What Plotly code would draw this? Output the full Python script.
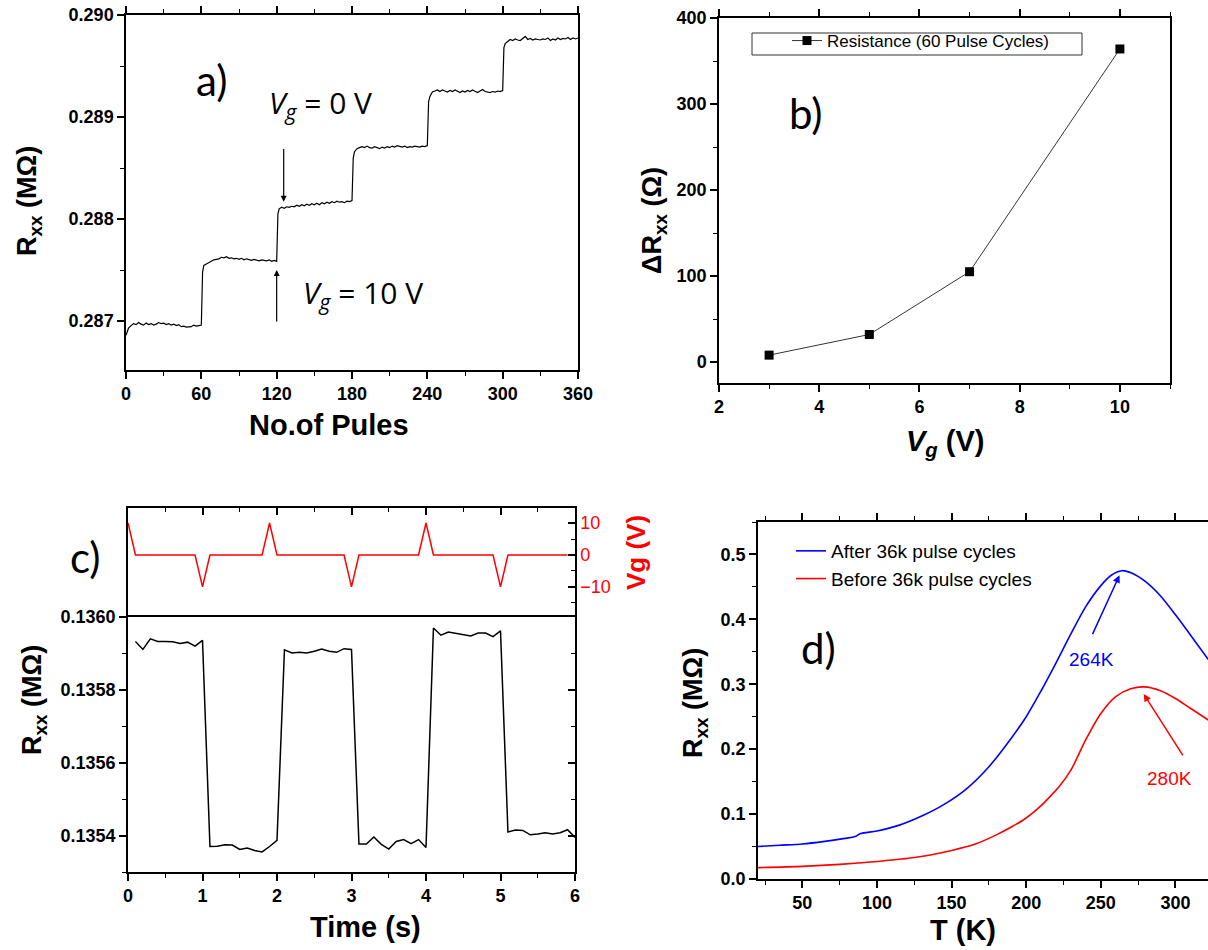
import plotly.graph_objects as go

# ---------------- data ----------------
# (a) Rxx (MOhm) vs number of pulses, six 60-pulse plateaus
pulses = (list(range(0, 61, 2))
          + [61] + list(range(62, 121, 2))
          + [121] + list(range(122, 181, 2))
          + [181] + list(range(182, 241, 2))
          + [241] + list(range(242, 301, 2))
          + [301] + list(range(302, 361, 2)))
rxx_seg1 = [0.286860, 0.286930, 0.286955, 0.286975, 0.286965, 0.286985, 0.286970, 0.286960,
            0.286980, 0.286965, 0.286975, 0.286960, 0.286970, 0.286985, 0.286975, 0.286980,
            0.286965, 0.286975, 0.286960, 0.286970, 0.286955, 0.286965, 0.286945, 0.286950,
            0.286940, 0.286945, 0.286945, 0.286960, 0.286950, 0.286955, 0.286960]
rxx_seg2 = [0.287480, 0.287545, 0.287560, 0.287575, 0.287590, 0.287600, 0.287605, 0.287610,
            0.287625, 0.287620, 0.287630, 0.287615, 0.287620, 0.287610, 0.287615, 0.287605,
            0.287615, 0.287600, 0.287610, 0.287605, 0.287595, 0.287605, 0.287600, 0.287590,
            0.287600, 0.287595, 0.287590, 0.287600, 0.287585, 0.287595, 0.287585]
rxx_seg3 = [0.288050, 0.288100, 0.288115, 0.288105, 0.288120, 0.288115, 0.288125, 0.288120,
            0.288135, 0.288125, 0.288140, 0.288130, 0.288145, 0.288135, 0.288150, 0.288140,
            0.288155, 0.288140, 0.288160, 0.288150, 0.288165, 0.288155, 0.288170, 0.288160,
            0.288175, 0.288165, 0.288170, 0.288160, 0.288175, 0.288170, 0.288180]
rxx_seg4 = [0.288600, 0.288660, 0.288690, 0.288700, 0.288710, 0.288700, 0.288715, 0.288700,
            0.288695, 0.288710, 0.288700, 0.288690, 0.288705, 0.288695, 0.288710, 0.288700,
            0.288715, 0.288705, 0.288720, 0.288710, 0.288705, 0.288715, 0.288700, 0.288710,
            0.288705, 0.288715, 0.288710, 0.288705, 0.288715, 0.288710, 0.288720]
rxx_seg5 = [0.289150, 0.289200, 0.289245, 0.289255, 0.289265, 0.289250, 0.289265, 0.289255,
            0.289245, 0.289260, 0.289250, 0.289265, 0.289250, 0.289240, 0.289255, 0.289245,
            0.289260, 0.289250, 0.289265, 0.289250, 0.289240, 0.289255, 0.289270, 0.289250,
            0.289245, 0.289240, 0.289250, 0.289245, 0.289255, 0.289250, 0.289260]
rxx_seg6 = [0.289680, 0.289720, 0.289745, 0.289760, 0.289750, 0.289765, 0.289755, 0.289750,
            0.289770, 0.289790, 0.289760, 0.289770, 0.289755, 0.289765, 0.289760, 0.289755,
            0.289765, 0.289760, 0.289775, 0.289750, 0.289765, 0.289755, 0.289775, 0.289760,
            0.289770, 0.289765, 0.289780, 0.289760, 0.289775, 0.289765, 0.289775]
rxx_pulses = rxx_seg1 + rxx_seg2 + rxx_seg3 + rxx_seg4 + rxx_seg5 + rxx_seg6

# (b) Delta Rxx vs gate voltage
vg_b = [3, 5, 7, 10]
drxx_b = [8, 32, 105, 364]

# (c) gate pulses and Rxx vs time
t_vg = [0, 0.1, 0.9, 1.0, 1.1, 1.8, 1.9, 2.0, 2.9, 3.0, 3.1, 3.9, 4.0, 4.1, 4.9, 5.0, 5.1, 5.9]
vg_c = [10, 0, 0, -10, 0, 0, 10, 0, 0, -10, 0, 0, 10, 0, 0, -10, 0, 0]
t_r = [round(0.1 * i, 1) for i in range(1, 61)]
rxx_t = [0.135933, 0.135911, 0.135940, 0.135933, 0.135933, 0.135932, 0.135927, 0.135931, 0.135920, 0.135936,
         0.135370, 0.135371, 0.135375, 0.135374, 0.135362, 0.135366, 0.135359, 0.135355, 0.135370, 0.135387,
         0.135910, 0.135901, 0.135903, 0.135901, 0.135906, 0.135912, 0.135906, 0.135903, 0.135913, 0.135911,
         0.135377, 0.135377, 0.135396, 0.135376, 0.135363, 0.135384, 0.135389, 0.135378, 0.135389, 0.135367,
         0.135970, 0.135950, 0.135959, 0.135956, 0.135953, 0.135948, 0.135956, 0.135956, 0.135946, 0.135962,
         0.135410, 0.135415, 0.135414, 0.135402, 0.135404, 0.135408, 0.135404, 0.135408, 0.135416, 0.135395]

# (d) Rxx vs temperature
T_after = [20, 35, 50, 65, 80, 86, 89, 100, 115, 130, 145, 160, 175, 190, 200, 210, 220, 230,
           240, 250, 257, 264, 271, 280, 290, 300, 310, 322]
R_after = [0.050, 0.052, 0.054, 0.058, 0.063, 0.066, 0.070, 0.074, 0.083, 0.097, 0.115, 0.139,
           0.173, 0.217, 0.250, 0.290, 0.333, 0.378, 0.420, 0.452, 0.468, 0.475, 0.471, 0.458,
           0.436, 0.407, 0.376, 0.338]
T_before = [20, 50, 75, 100, 125, 150, 165, 180, 190, 200, 210, 218, 222, 230, 240, 250, 260,
            270, 279, 290, 300, 310, 322]
R_before = [0.0175, 0.0195, 0.0225, 0.027, 0.033, 0.044, 0.053, 0.068, 0.080, 0.094, 0.113,
            0.132, 0.142, 0.168, 0.215, 0.255, 0.281, 0.293, 0.296, 0.290, 0.278, 0.263, 0.245]

# ---------------- layout helpers ----------------
W, H = 1208, 950


def dom_x(left, right):
    return [left / W, right / W]


def dom_y(top, bottom):
    return [1 - bottom / H, 1 - top / H]


ARIAL = "Liberation Sans"
TICKFONT = dict(family=ARIAL, size=18, color="black", weight="bold")


def ax(**kw):
    base = dict(showline=True, linecolor="black", linewidth=1.5, ticks="outside",
                ticklen=7, tickwidth=1.5, tickcolor="black", showgrid=False,
                zeroline=False, tickfont=TICKFONT, fixedrange=True)
    base.update(kw)
    return base


def minor(dtick, tick0=0, ticks="outside", ticklen=4):
    return dict(dtick=dtick, tick0=tick0, ticks=ticks, ticklen=ticklen, tickwidth=1.2,
                tickcolor="black", showgrid=False)


fig = go.Figure()

# (a)
fig.add_trace(go.Scatter(x=pulses, y=rxx_pulses, mode="lines", xaxis="x", yaxis="y",
                         line=dict(color="black", width=1.2), showlegend=False))
# (b)
fig.add_trace(go.Scatter(x=vg_b, y=drxx_b, mode="lines+markers", xaxis="x2", yaxis="y2",
                         name="Resistance (60 Pulse Cycles)", legend="legend",
                         line=dict(color="black", width=0.8),
                         marker=dict(symbol="square", size=9, color="black")))
# (c)
fig.add_trace(go.Scatter(x=t_vg, y=vg_c, mode="lines", xaxis="x3", yaxis="y3",
                         line=dict(color="red", width=1.5), showlegend=False))
fig.add_trace(go.Scatter(x=t_r, y=rxx_t, mode="lines", xaxis="x4", yaxis="y4",
                         line=dict(color="black", width=1.5), showlegend=False))
# empty trace that only carries the inward right-hand ticks of panel c
fig.add_trace(go.Scatter(x=[], y=[], mode="lines", xaxis="x4", yaxis="y6",
                         showlegend=False, hoverinfo="skip"))
# (d)
fig.add_trace(go.Scatter(x=T_after, y=R_after, mode="lines", xaxis="x5", yaxis="y5",
                         name="After 36k pulse cycles", legend="legend2",
                         line=dict(color="blue", width=1.6, shape="spline", smoothing=0.8)))
fig.add_trace(go.Scatter(x=T_before, y=R_before, mode="lines", xaxis="x5", yaxis="y5",
                         name="Before 36k pulse cycles", legend="legend2",
                         line=dict(color="red", width=1.6, shape="spline", smoothing=0.8)))

rxx_c_range = [0.1353, 0.1360]
rxx_c_ticks = [0.1354, 0.1356, 0.1358, 0.1360]

fig.update_layout(
    width=W, height=H, autosize=False,
    margin=dict(l=0, r=0, t=0, b=0, pad=0, autoexpand=False),
    paper_bgcolor="white", plot_bgcolor="white",
    font=dict(family=ARIAL, color="black"),
    # panel a
    xaxis=ax(domain=dom_x(126, 578), anchor="y", range=[0, 360],
             tickvals=[0, 60, 120, 180, 240, 300, 360], minor=minor(30), mirror="ticks"),
    yaxis=ax(domain=dom_y(15, 370), anchor="x", range=[0.28652, 0.2900],
             tickvals=[0.287, 0.288, 0.289, 0.290], tickformat=".3f",
             minor=minor(0.0005, 0.287), mirror=True),
    # panel b
    xaxis2=ax(domain=dom_x(719, 1170), anchor="y2", range=[2, 11],
              tickvals=[2, 4, 6, 8, 10], minor=minor(1, 2), mirror="ticks"),
    yaxis2=ax(domain=dom_y(18, 383), anchor="x2", range=[-24.4, 400],
              tickvals=[0, 100, 200, 300, 400], minor=minor(50), mirror=True),
    # panel c (top: Vg)
    xaxis3=ax(domain=dom_x(128, 575), anchor="y3", range=[0, 6], side="top",
              ticks="inside", dtick=1, showticklabels=False,
              minor=minor(0.5, 0, "inside"), mirror=False),
    yaxis3=ax(domain=dom_y(508, 617), anchor="x3", range=[-19.4, 14.7], side="right",
              ticks="inside", tickvals=[-10, 0, 10],
              tickfont=dict(family=ARIAL, size=18, color="red"),
              minor=minor(5, 0, "inside"), mirror=True),
    # panel c (bottom: Rxx)
    xaxis4=ax(domain=dom_x(128, 575), anchor="y4", range=[0, 6], dtick=1,
              minor=minor(0.5), mirror=True),
    yaxis4=ax(domain=dom_y(617, 872), anchor="x4", range=rxx_c_range,
              tickvals=rxx_c_ticks, tickformat=".4f",
              minor=minor(0.0001, 0.1353), mirror=True),
    yaxis6=ax(overlaying="y4", side="right", anchor="x4", range=rxx_c_range,
              tickvals=rxx_c_ticks, showticklabels=False, showline=False,
              ticks="inside", minor=minor(0.0001, 0.1353, "inside")),
    # panel d
    xaxis5=ax(domain=[758 / W, 1.0], anchor="y5", range=[20.3, 321.8],
              tickvals=[50, 100, 150, 200, 250, 300], minor=minor(25), mirror="ticks"),
    yaxis5=ax(domain=dom_y(522, 879), anchor="x5", range=[0, 0.55], dtick=0.1,
              tickformat=".1f", minor=minor(0.05)),
    legend=dict(x=787 / W, y=1 - 23 / H, xanchor="left", yanchor="top",
                font=dict(family=ARIAL, size=17, color="black"),
                bgcolor="rgba(0,0,0,0)", borderwidth=0),
    legend2=dict(x=791 / W, y=1 - 532 / H, xanchor="left", yanchor="top",
                 font=dict(family=ARIAL, size=19, color="black"),
                 bgcolor="rgba(0,0,0,0)", borderwidth=0, tracegroupgap=0),
)

# legend frame of panel b
fig.add_shape(type="rect", xref="paper", yref="paper",
              x0=752 / W, x1=1082 / W, y0=1 - 55 / H, y1=1 - 33 / H,
              line=dict(color="#333333", width=1))

ann = []
TITLE = dict(family=ARIAL, size=27, color="black")
HTITLE = dict(family=ARIAL, size=29, color="black")
CAL = "Lato"


def paper_text(x, y, text, font, angle=0):
    return dict(x=x / W, y=1 - y / H, xref="paper", yref="paper", text=text,
                showarrow=False, font=font, textangle=angle,
                xanchor="center", yanchor="middle")


# axis titles
ann.append(paper_text(29, 201, "<b>R<sub>xx</sub> (MΩ)</b>", TITLE, -90))
ann.append(paper_text(329, 425, "<b>No.of Pules</b>", HTITLE))
ann.append(paper_text(654, 221, "<b>ΔR<sub>xx</sub> (Ω)</b>", TITLE, -90))
ann.append(paper_text(945, 443, "<b><i>V</i><sub><i>g</i></sub> (V)</b>", HTITLE))
ann.append(paper_text(34, 700, "<b>R<sub>xx</sub> (MΩ)</b>", TITLE, -90))
ann.append(paper_text(365, 927, "<b>Time (s)</b>", HTITLE))
ann.append(paper_text(636, 553, "<b>Vg (V)</b>", dict(family=ARIAL, size=26, color="red"), -90))
ann.append(paper_text(695, 703, "<b>R<sub>xx</sub> (MΩ)</b>", TITLE, -90))
ann.append(paper_text(963, 930, "<b>T (K)</b>", HTITLE))

# panel labels
PANEL = dict(family=CAL, size=42, color="black")
ann.append(paper_text(211, 80, "a)", PANEL))
ann.append(paper_text(806, 113, "b)", PANEL))
ann.append(paper_text(85, 557, "c)", PANEL))
ann.append(paper_text(818, 648, "d)", PANEL))

# panel a callouts
VFONT = dict(family="Open Sans", size=30, color="black")
ann.append(dict(x=155, y=0.289130, xref="x", yref="y", showarrow=False,
                text="<i>V</i><sub><i>g</i></sub> = 0 V", font=VFONT))
ann.append(dict(x=189, y=0.287265, xref="x", yref="y", showarrow=False,
                text="<i>V</i><sub><i>g</i></sub> = 10 V", font=VFONT))
ann.append(dict(x=125.6, y=0.28817, ax=125.6, ay=0.28870, xref="x", yref="y",
                axref="x", ayref="y", text="", showarrow=True, arrowhead=2,
                arrowsize=1, arrowwidth=1.2, arrowcolor="black"))
ann.append(dict(x=120, y=0.28750, ax=120, ay=0.28698, xref="x", yref="y",
                axref="x", ayref="y", text="", showarrow=True, arrowhead=2,
                arrowsize=1, arrowwidth=1.2, arrowcolor="black"))

# panel d callouts
ann.append(dict(x=244, y=0.338, xref="x5", yref="y5", showarrow=False, text="264K",
                font=dict(family=ARIAL, size=19, color="blue")))
ann.append(dict(x=262.5, y=0.468, ax=244, ay=0.375, xref="x5", yref="y5",
                axref="x5", ayref="y5", text="", showarrow=True, arrowhead=2,
                arrowsize=1, arrowwidth=1.5, arrowcolor="blue"))
ann.append(dict(x=296, y=0.155, xref="x5", yref="y5", showarrow=False, text="280K",
                font=dict(family=ARIAL, size=19, color="red")))
ann.append(dict(x=278.7, y=0.285, ax=305.6, ay=0.188, xref="x5", yref="y5",
                axref="x5", ayref="y5", text="", showarrow=True, arrowhead=2,
                arrowsize=1, arrowwidth=1.5, arrowcolor="red"))

fig.update_layout(annotations=ann)

fig.write_html("out.html", config={"displayModeBar": False},
               post_script="document.body.style.margin='0px';document.body.style.overflow='hidden';")
